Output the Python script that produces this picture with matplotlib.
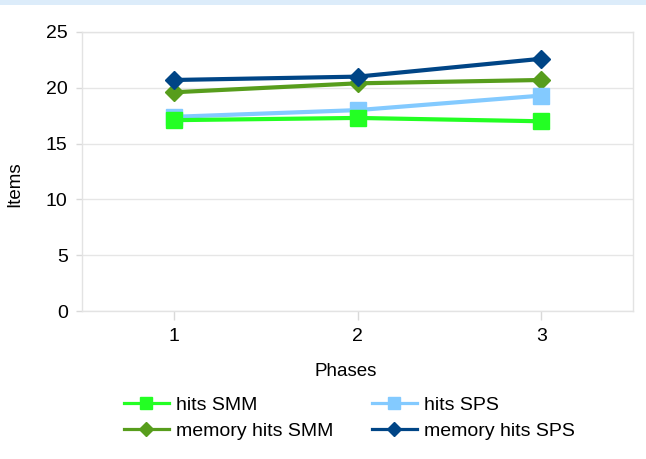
import matplotlib
matplotlib.use("Agg")
import matplotlib.pyplot as plt
from matplotlib.patches import Rectangle
from copy import copy

plt.rcParams['font.family'] = ['Liberation Sans', 'DejaVu Sans']

phases = [1, 2, 3]
hits_smm = [17.1, 17.3, 17.0]
hits_sps = [17.4, 18.0, 19.3]
mem_hits_smm = [19.6, 20.4, 20.7]
mem_hits_sps = [20.7, 21.0, 22.6]

series = [
    ("hits SMM", hits_smm, "#23ff23", "s", 5),
    ("hits SPS", hits_sps, "#83caff", "s", 4),
    ("memory hits SMM", mem_hits_smm, "#579d1c", "D", 3),
    ("memory hits SPS", mem_hits_sps, "#004586", "D", 3),
]

fig = plt.figure(figsize=(6.46, 4.59), dpi=100)
# thin blue strip along the top edge
fig.patches.append(Rectangle((0, 1 - 5 / 459), 1, 5 / 459, transform=fig.transFigure,
                             facecolor="#dcecfa", edgecolor="none", zorder=0))

ax = fig.add_axes([82 / 646, 1 - 311 / 459, (633 - 82) / 646, (311 - 32) / 459])

lines = {}
for label, vals, color, marker, z in series:
    lines[label], = ax.plot(phases, vals, color=color, lw=3.0, marker=marker,
                            markersize=11 if marker == "s" else 9.5, label=label,
                            zorder=z)

ax.set_xlim(0.5, 3.5)
ax.set_ylim(0, 25)
ax.set_xticks(phases)
ax.set_yticks(range(0, 26, 5))
ax.grid(axis="y", color="#e6e6e6", lw=1)
ax.set_axisbelow(True)
for sp in ax.spines.values():
    sp.set_color("#e3e3e3")
    sp.set_linewidth(1)
ax.tick_params(axis="both", colors="#d9d9d9", labelcolor="black", labelsize=14,
               width=1)
ax.tick_params(axis="y", length=4.3, pad=6)
ax.tick_params(axis="x", length=6.5, pad=6)

ax.set_xlabel("Phases", fontsize=13.5, va="center")
ax.xaxis.set_label_coords((346 - 82) / 551, (311 - 372) / 279)
ax.set_ylabel("Items", fontsize=13.5, va="center")
ax.yaxis.set_label_coords((15 - 82) / 551, (311 - 184) / 279)

# legend rows: hits SMM / hits SPS, then the memory series
order = ["hits SMM", "memory hits SMM", "hits SPS", "memory hits SPS"]
handles = []
for name in order:
    h = copy(lines[name])
    h.set_markersize(8.5 if h.get_marker() == "s" else 7)
    h.set_linewidth(2.3)
    handles.append(h)
fig.legend(handles, order, ncol=2, loc="upper left",
           bbox_to_anchor=(124 / 646, 1 - 396 / 459),
           frameon=False, fontsize=14, handlelength=2.3, handletextpad=0.36,
           columnspacing=2.0, labelspacing=0.45, borderpad=0, borderaxespad=0)

fig.savefig("out.png", dpi=100)
